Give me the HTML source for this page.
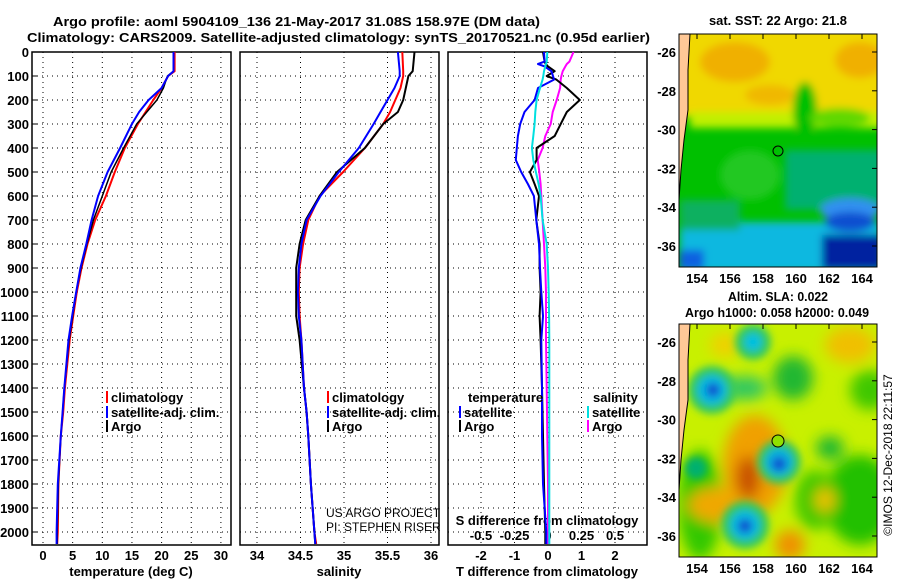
<!DOCTYPE html>
<html><head><meta charset="utf-8"><style>
body{margin:0;background:#fff;}
svg{display:block;font-family:"Liberation Sans",sans-serif;font-weight:bold;}
text{font-size:13px;}
</style></head><body>
<svg id="chart" width="900" height="580" viewBox="0 0 900 580" xmlns="http://www.w3.org/2000/svg">
<defs>
<filter id="blur4" x="-50%" y="-50%" width="200%" height="200%"><feGaussianBlur stdDeviation="4"/></filter>
<filter id="blur7" x="-50%" y="-50%" width="200%" height="200%"><feGaussianBlur stdDeviation="7"/></filter>
<clipPath id="clipTop"><rect x="679" y="34" width="198" height="233"/></clipPath>
<clipPath id="clipBot"><rect x="679" y="324" width="198" height="233"/></clipPath>
</defs>
<text x="53" y="26" textLength="487" lengthAdjust="spacingAndGlyphs">Argo profile: aoml 5904109_136 21-May-2017 31.08S 158.97E (DM data)</text>
<text x="27" y="42" textLength="623" lengthAdjust="spacingAndGlyphs">Climatology: CARS2009. Satellite-adjusted climatology: synTS_20170521.nc (0.95d earlier)</text>
<g id="plots"></g>

<!-- SST map -->
<g>
<text x="778" y="25" text-anchor="middle" textLength="138" lengthAdjust="spacingAndGlyphs">sat. SST: 22 Argo: 21.8</text>
<g clip-path="url(#clipTop)">
<rect x="679" y="34" width="198" height="233" fill="#00c000"/>
<g filter="url(#blur4)">
<rect x="670" y="25" width="220" height="92" fill="#f0d800"/>
<ellipse cx="735" cy="62" rx="35" ry="20" fill="#f0b000"/>
<ellipse cx="860" cy="60" rx="25" ry="18" fill="#f0b000"/>
<ellipse cx="770" cy="95" rx="25" ry="10" fill="#f0b800"/>
<rect x="690" y="112" width="200" height="16" fill="#c0f000"/>
<ellipse cx="805" cy="110" rx="12" ry="28" fill="#00c000"/>
<ellipse cx="840" cy="118" rx="30" ry="10" fill="#60d800"/>
<rect x="785" y="150" width="100" height="60" fill="#00b070"/>
<ellipse cx="750" cy="175" rx="30" ry="25" fill="#20c820"/>
<rect x="680" y="222" width="200" height="50" fill="#10b8e0"/>
<rect x="680" y="200" width="60" height="30" fill="#10b060"/>
<ellipse cx="850" cy="210" rx="30" ry="12" fill="#3090f0"/>
<rect x="822" y="235" width="60" height="35" fill="#0020a0"/>
<ellipse cx="850" cy="222" rx="25" ry="10" fill="#1050d0"/>
<rect x="679" y="250" width="25" height="20" fill="#1060e0"/>
</g>
<path d="M679 34 L690 34 L688 70 L688 110 L684 140 L681 170 L679 200 Z" fill="#ffc896"/>
<path d="M690 34 L688 70 L688 110 L684 140 L681 170 L679 200" fill="none" stroke="#000" stroke-width="1"/>
</g>
<circle cx="778" cy="151" r="5" fill="none" stroke="#000" stroke-width="1"/>
<rect x="679" y="34" width="198" height="233" fill="none" stroke="#000" stroke-width="1"/>
</g>

<!-- SLA map -->
<g>
<text x="778" y="301" text-anchor="middle" textLength="100" lengthAdjust="spacingAndGlyphs">Altim. SLA: 0.022</text>
<text x="777" y="317" text-anchor="middle" textLength="184" lengthAdjust="spacingAndGlyphs">Argo h1000: 0.058 h2000: 0.049</text>
<g clip-path="url(#clipBot)">
<rect x="679" y="324" width="198" height="233" fill="#c8f000"/>
<g filter="url(#blur7)">
<ellipse cx="700" cy="505" rx="22" ry="55" fill="#30c800"/>
<ellipse cx="860" cy="500" rx="35" ry="45" fill="#20c000"/>
<ellipse cx="815" cy="500" rx="20" ry="30" fill="#40c800"/>
<ellipse cx="793" cy="378" rx="20" ry="22" fill="#20b830"/>
<ellipse cx="870" cy="390" rx="20" ry="20" fill="#40c800"/>
<ellipse cx="830" cy="448" rx="14" ry="12" fill="#20b830"/>
<ellipse cx="850" cy="345" rx="25" ry="18" fill="#f0c000"/>
<ellipse cx="725" cy="345" rx="15" ry="12" fill="#f0d000"/>
<ellipse cx="755" cy="465" rx="32" ry="50" fill="#f0a000"/>
<ellipse cx="720" cy="505" rx="32" ry="18" fill="#f0a800"/>
<ellipse cx="790" cy="545" rx="15" ry="15" fill="#f09000"/>
<ellipse cx="825" cy="500" rx="10" ry="12" fill="#f0c000"/>
<ellipse cx="748" cy="478" rx="12" ry="22" fill="#c85000"/>
<ellipse cx="745" cy="388" rx="22" ry="12" fill="#30c860"/>
</g>
<g filter="url(#blur4)">
<circle cx="712" cy="390" r="24" fill="#30c860"/>
<circle cx="712" cy="390" r="15" fill="#00b8e0"/>
<circle cx="713" cy="390" r="7" fill="#1050d0"/>
<circle cx="753" cy="342" r="18" fill="#30c860"/>
<circle cx="753" cy="342" r="9" fill="#00c0e0"/>
<circle cx="779" cy="462" r="22" fill="#30c860"/>
<circle cx="779" cy="462" r="14" fill="#00b0e0"/>
<circle cx="779" cy="464" r="7" fill="#1050d0"/>
<circle cx="745" cy="525" r="24" fill="#30c860"/>
<circle cx="745" cy="525" r="15" fill="#00b8e0"/>
<circle cx="745" cy="526" r="7" fill="#1050d0"/>
<circle cx="696" cy="468" r="11" fill="#00b070"/>
</g>
<path d="M679 324 L690 324 L688 360 L688 400 L684 430 L681 460 L679 490 Z" fill="#ffc896"/>
<path d="M690 324 L688 360 L688 400 L684 430 L681 460 L679 490" fill="none" stroke="#000" stroke-width="1"/>
</g>
<circle cx="778" cy="441" r="6" fill="#90e000" stroke="#000" stroke-width="1"/>
<rect x="679" y="324" width="198" height="233" fill="none" stroke="#000" stroke-width="1"/>
</g>
<text transform="translate(892,455) rotate(-90)" text-anchor="middle" style="font-weight:normal;font-size:12px">©IMOS 12-Dec-2018 22:11:57</text>
<g id="maptix"></g>
</svg>
<script>
// ---- data ----
const depthT = [0,80,100,150,200,250,300,400,500,600,700,800,900,1000,1100,1200,1400,1500,1600,1800,2000,2050];
const tempClim = [22.2,22.2,21.1,20.0,18.6,17.3,16.0,13.8,12.1,10.6,8.8,7.5,6.5,5.7,5.1,4.5,3.7,3.4,3.0,2.6,2.5,2.4];
const tempSat  = [22.0,22.0,21.1,20.0,17.8,16.2,15.0,13.0,10.9,9.3,8.2,7.3,6.3,5.6,4.9,4.3,3.6,3.3,3.0,2.5,2.3,2.3];
const tempArgo = [22.0,22.0,21.0,20.3,19.2,17.5,15.8,13.6,11.5,10.0,8.5,7.4,6.4,5.6,5.0,4.4,3.6,3.3,3.0,2.6,2.4,2.4];
const salClim = [35.67,35.68,35.68,35.65,35.59,35.53,35.45,35.24,34.99,34.72,34.59,34.53,34.49,34.48,34.49,34.51,34.54,34.57,34.59,34.62,34.66,34.68];
const salSat  = [35.62,35.64,35.64,35.58,35.50,35.42,35.34,35.17,34.94,34.73,34.57,34.51,34.48,34.47,34.48,34.51,34.54,34.57,34.59,34.62,34.66,34.67];
const salArgo = [35.81,35.79,35.74,35.71,35.68,35.62,35.45,35.24,34.92,34.72,34.56,34.49,34.45,34.45,34.45,34.49,34.54,34.57,34.59,34.62,34.66,34.67];
const depthD = [0,40,50,60,80,100,115,150,200,250,300,350,400,450,500,550,600,700,800,900,1000,1100,1200,1400,1600,1800,2000,2050];
const dTsat  = [-0.12,-0.1,-0.3,-0.1,0.1,0.15,0.18,-0.3,-0.4,-0.7,-0.83,-0.9,-0.93,-0.96,-0.8,-0.6,-0.42,-0.35,-0.27,-0.24,-0.2,-0.15,-0.2,-0.18,-0.18,-0.15,-0.05,-0.05];
const dTargo = [-0.15,-0.1,-0.07,0.0,0.2,-0.04,0.25,0.56,0.95,0.56,0.38,0.2,-0.34,-0.34,-0.54,-0.4,-0.27,-0.35,-0.25,-0.25,-0.22,-0.25,-0.22,-0.18,-0.15,-0.12,-0.08,-0.08];
const dSsat  = [-0.005,-0.01,-0.015,-0.02,-0.03,-0.035,-0.04,-0.06,-0.085,-0.095,-0.1,-0.11,-0.12,-0.11,-0.09,-0.07,-0.055,-0.04,-0.01,0.0,0.005,0.008,0.01,0.01,0.01,0.01,0.01,0.01];
const dSargo = [0.19,0.16,0.14,0.13,0.11,0.1,0.095,0.09,0.065,0.035,0.02,-0.02,-0.04,-0.077,-0.065,-0.055,-0.05,-0.04,-0.03,-0.02,-0.015,-0.015,-0.015,-0.01,-0.005,0.0,0.0,0.0];
const depthTicks = [0,100,200,300,400,500,600,700,800,900,1000,1100,1200,1300,1400,1500,1600,1700,1800,1900,2000];
const tempTicks = [0,5,10,15,20,25,30];
const salTicks = [34,34.5,35,35.5,36];
const dTTicks = [-2,-1,0,1,2];
const dSTicks = [-0.5,-0.25,0,0.25,0.5];
const latTicks = [-26,-28,-30,-32,-34,-36];
const lonTicks = [154,156,158,160,162,164];

// ---- axes ----
const Y0 = 52, YB = 545;
const yD = d => Y0 + 0.24*d;
const xT = t => 43 + 5.93*t;
const xS = s => 257 + 87*(s-34);
const xDT = t => 548 + 33.5*t;
const xDS = s => 548 + 134*s;
const panels = [[32,231],[240,439],[448,647]];
const NS = 'http://www.w3.org/2000/svg';
const root = document.getElementById('plots');
function mk(tag, attrs, parent, txt){
  const e = document.createElementNS(NS, tag);
  for (const k in attrs) e.setAttribute(k, attrs[k]);
  if (txt !== undefined) e.textContent = txt;
  (parent||root).appendChild(e);
  return e;
}
function fmt(v){ return String(v); }

panels.forEach((p,i)=>{
  depthTicks.forEach(d=>{
    const g = mk('line',{x1:p[0],x2:p[1],y1:yD(d),y2:yD(d),stroke:'#000','stroke-width':1,'stroke-dasharray':'1,4'});
    
    
  });
});
const vgrids = [[tempTicks,xT],[salTicks,xS],[dTTicks,xDT]];
vgrids.forEach(([ticks,f])=>{
  ticks.forEach(v=>{
    const g = mk('line',{x1:f(v),x2:f(v),y1:Y0,y2:YB,stroke:'#000','stroke-width':1,'stroke-dasharray':'1,4'});
    
    
  });
});
panels.forEach((p,i)=>{
  const r = mk('rect',{x:p[0],y:Y0,width:p[1]-p[0],height:YB-Y0,fill:'none',stroke:'#000','stroke-width':1.5});
  
  
});
depthTicks.forEach(d=>{
  const t = mk('text',{x:29,y:yD(d)+5,'text-anchor':'end'},root,String(d));
  
  
  const l = mk('line',{x1:32,x2:38,y1:yD(d),y2:yD(d),stroke:'#000'});
  
  
});
function xticks(ticks,f,y){
  ticks.forEach(v=>{
    const t = mk('text',{x:f(v),y:y,'text-anchor':'middle'},root,fmt(v));
    
    
  });
}
xticks(tempTicks,xT,560);
xticks(salTicks,xS,560);
xticks(dTTicks,xDT,560);
xticks(dSTicks,xDS,540);
const xl = [['temperature (deg C)',131,'temperature-axis-title'],['salinity',339,'salinity-axis-title'],['T difference from climatology',547,'t-difference-axis-title']];
xl.forEach(([s,x,n])=>{
  const t = mk('text',{x:x,y:576,'text-anchor':'middle'},root,s);
  
  
});
const sd = mk('text',{x:547,y:525,'text-anchor':'middle'},root,'S difference from climatology');


const p1 = mk('text',{x:326,y:517,style:'font-weight:normal;font-size:12px'},root,'US ARGO PROJECT');


const p2 = mk('text',{x:326,y:531,style:'font-weight:normal;font-size:12px'},root,'PI: STEPHEN RISER');



function line(xs, ds, fx, color, name, w){
  let d = '';
  xs.forEach((v,i)=>{ d += (i?'L':'M') + fx(v).toFixed(1) + ' ' + yD(ds[i]).toFixed(1); });
  const p = mk('path',{d:d,fill:'none',stroke:color,'stroke-width':w||2,'stroke-linejoin':'round'});
  
  
}
line(tempClim, depthT, xT, '#ff0000', 'temp-climatology-line');
line(tempArgo, depthT, xT, '#000000', 'temp-argo-line', 1.5);
line(tempSat, depthT, xT, '#0000ff', 'temp-satellite-line');
line(salClim, depthT, xS, '#ff0000', 'sal-climatology-line');
line(salArgo, depthT, xS, '#000000', 'sal-argo-line');
line(salSat, depthT, xS, '#0000ff', 'sal-satellite-line');
line(dSargo, depthD, xDS, '#ff00ff', 's-diff-argo-line');
line(dTargo, depthD, xDT, '#000000', 't-diff-argo-line');
line(dTsat, depthD, xDT, '#0000ff', 't-diff-satellite-line');
line(dSsat, depthD, xDS, '#00e0e0', 's-diff-satellite-line');

function legend(x,y,color,label,name){
  const l = mk('line',{x1:x,x2:x,y1:y-11,y2:y+1,stroke:color,'stroke-width':2});
  
  
  const t = mk('text',{x:x+4,y:y},root,label);
  
  
}
[[107],[328]].forEach(([x],i)=>{
  legend(x,402,'#ff0000','climatology','legend-climatology');
  legend(x,417,'#0000ff','satellite-adj. clim.','legend-satellite-adj');
  legend(x,431,'#000000','Argo','legend-argo');
});
const lt = mk('text',{x:468,y:402},root,'temperature');


const ls = mk('text',{x:593,y:402},root,'salinity');


legend(460,417,'#0000ff','satellite','legend-t-satellite');
legend(460,431,'#000000','Argo','legend-t-argo');
legend(588,417,'#00e0e0','satellite','legend-s-satellite');
legend(588,431,'#ff00ff','Argo','legend-s-argo');

// map ticks
const mt = document.getElementById('maptix');
const lonX = lo => 697 + 16.5*(lo-154);
const latTop = la => 52 + 19.4*(-26-la);
const latBot = la => 342 + 19.4*(-26-la);
[[latTop,34,267],[latBot,324,557]].forEach(([fy,yt,yb])=>{
  latTicks.forEach(la=>{
    const t = mk('text',{x:676,y:fy(la)+5,'text-anchor':'end'},mt,String(la));
    
    
    const l = mk('line',{x1:872,x2:877,y1:fy(la),y2:fy(la),stroke:'#000'},mt);
    
    
  });
  lonTicks.forEach(lo=>{
    const t = mk('text',{x:lonX(lo),y:yb+16,'text-anchor':'middle'},mt,String(lo));
    
    
    const l = mk('line',{x1:lonX(lo),x2:lonX(lo),y1:yt,y2:yt+5,stroke:'#000'},mt);
    
    
  });
});
</script>
</body></html>
